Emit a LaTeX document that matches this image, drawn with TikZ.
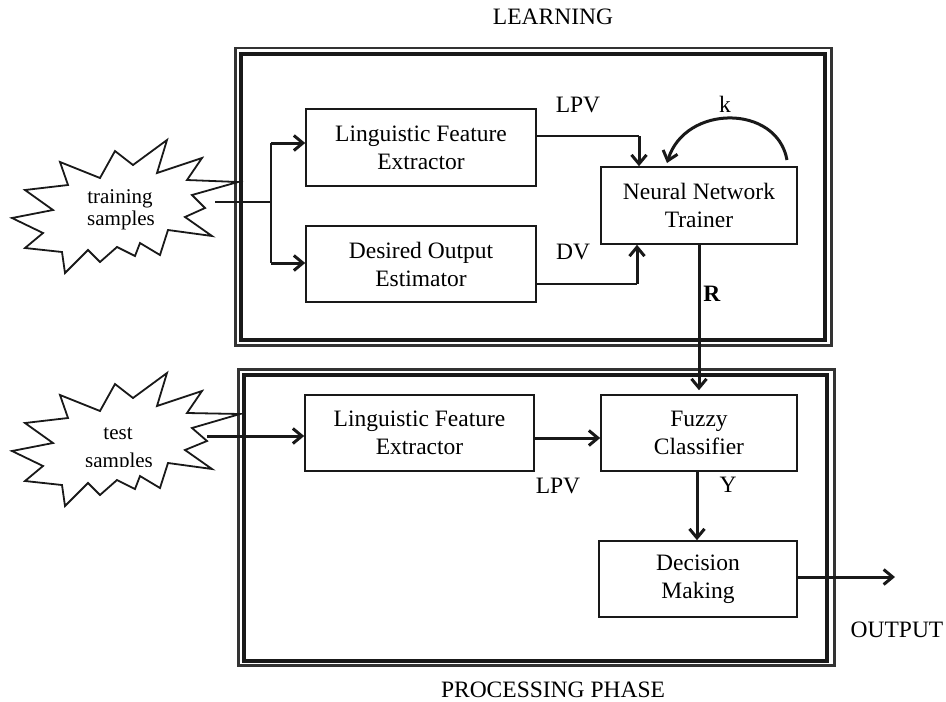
\documentclass[tikz,border=0pt]{standalone}
\usepackage{fontspec}
\setmainfont{Liberation Serif}
\usetikzlibrary{arrows.meta}
\newcommand\mytxt{\fontsize{23.5}{28}\selectfont}
\newcommand\cloudtxt{\fontsize{21}{22}\selectfont}
\begin{document}
\begin{tikzpicture}[x=1pt,y=-1pt,
  frameout/.style={draw=black!80, line width=2.6pt},
  framein/.style={draw=black!90, line width=4pt},
  box/.style={draw=black!90, line width=1.6pt, inner sep=0pt, align=center, font=\mytxt},
  lbl/.style={font=\mytxt, inner sep=0pt, anchor=base},
  thn/.style={draw=black!90, line width=1.8pt},
  thk/.style={draw=black!90, line width=3pt},
  arr/.style={-{Straight Barb[length=9pt,width=15pt]}},
  cloudline/.style={draw=black!90, line width=1.8pt, fill=white, line join=miter}
]
\useasboundingbox (0,0) rectangle (946,702);

% frames
\draw[frameout] (235.3,48) rectangle (831.5,345.7);
\draw[framein] (240.5,53.7) rectangle (825,340);
\draw[frameout] (238.5,369.5) rectangle (834.5,665.7);
\draw[framein] (244,375) rectangle (826.5,661.3);

% titles
\node[lbl] (tlearn) at (553,24) {LEARNING};
\node[lbl] (tproc) at (553,697) {PROCESSING PHASE};

% clouds
\draw[cloudline] (12,218) -- (53,210) -- (25,190) -- (68,185) -- (60,162) -- (100,178) -- (115,151) -- (133,165) -- (167,140) -- (157,173) -- (202,158) -- (187,180) -- (238,182) -- (192,195) -- (205,208) -- (185,217) -- (212,236) -- (168,230) -- (160,255) -- (140,243) -- (135,256) -- (117,247) -- (100,262) -- (88,250) -- (65,273) -- (62,252) -- (25,248) -- (43,233) -- cycle;
\begin{scope}[yshift=-233pt]
\draw[cloudline] (12,218) -- (53,210) -- (25,190) -- (68,185) -- (60,162) -- (100,178) -- (115,151) -- (133,165) -- (167,140) -- (157,173) -- (202,158) -- (187,180) -- (240,181) -- (192,195) -- (207,208) -- (185,217) -- (212,236) -- (168,230) -- (160,255) -- (140,243) -- (135,256) -- (117,247) -- (100,262) -- (88,250) -- (65,273) -- (62,252) -- (25,248) -- (43,233) -- cycle;
\end{scope}
\node[font=\cloudtxt, inner sep=0pt, anchor=base] (tr1) at (120,203) {training};
\node[font=\cloudtxt, inner sep=0pt, anchor=base] (tr2) at (121,225) {samples};
\node[font=\cloudtxt, inner sep=0pt, anchor=base] (te1) at (118,439) {test};
\begin{scope}
\clip (60,440) rectangle (180,466.5);
\node[font=\cloudtxt, inner sep=0pt, anchor=base] (te2) at (119,467) {samples};
\end{scope}

% boxes
\node[box, minimum width=230pt, minimum height=77pt] (lfe) at (421,147.5) {Linguistic Feature\\Extractor};
\node[box, minimum width=230pt, minimum height=76pt] (doe) at (421,264) {Desired Output\\Estimator};
\node[box, minimum width=196pt, minimum height=77pt] (nnt) at (699,205.5) {Neural Network\\Trainer};
\node[box, minimum width=229pt, minimum height=76pt] (lfe2) at (419.5,433) {Linguistic Feature\\Extractor};
\node[box, minimum width=196pt, minimum height=76pt] (fc) at (699,433) {Fuzzy\\Classifier};
\node[box, minimum width=198pt, minimum height=76pt] (dm) at (698,579) {Decision\\Making};

% labels
\node[lbl] (llpv) at (578,112) {LPV};
\node[lbl] (lk) at (725,112) {k};
\node[lbl] (ldv) at (573,259) {DV};
\node[lbl] (lr) at (712,301) {\textbf{R}};
\node[lbl] (llpv2) at (558,493) {LPV};
\node[lbl] (ly) at (728,492) {Y};
\node[lbl] (lout) at (897,637) {OUTPUT};

% learning connectors
\coordinate (tsrc) at (215,202);
\coordinate (split) at (271,202);
\coordinate (s1) at (271,143);
\coordinate (s2) at (271,263);
\draw[thn] (tsrc) -- (split);
\draw[thn] (s1) -- (s2);
\draw[thk, arr] (s1) -- (s1 -| lfe.west);
\draw[thk, arr] (s2) -- (s2 -| doe.west);

\coordinate (lpvc) at ([xshift=-60pt]nnt.north |- 0,136);
\draw[thn] ([yshift=11.5pt]lfe.east) -- (lpvc);
\draw[thk, arr] (lpvc) -- (lpvc |- nnt.north);

\coordinate (dvc) at ([xshift=-62pt]nnt.south |- 0,284);
\draw[thn] ([yshift=-20pt]doe.east) -- (dvc);
\draw[thk, arr] (dvc) -- (dvc |- nnt.south);

\coordinate (ks) at (787,160);
\coordinate (ke) at (667,163);
\draw[thk, arr] (ks) .. controls (777,104) and (685,104) .. (ke);

\draw[thk, arr, shorten >=4pt] (nnt.south) -- (fc.north);

% processing connectors
\coordinate (tesrc) at (207,436);
\draw[thk, arr] (tesrc) -- (tesrc -| lfe2.west);
\draw[thk, arr] ([yshift=-5pt]lfe2.east) -- ([yshift=-5pt]lfe2.east -| fc.west);
\draw[thk, arr] ([xshift=-2pt]fc.south) -- ([xshift=-1pt]dm.north);
\coordinate (out) at (895,577);
\draw[thk, arr] (dm.east |- out) -- (out);
\end{tikzpicture}
\end{document}
